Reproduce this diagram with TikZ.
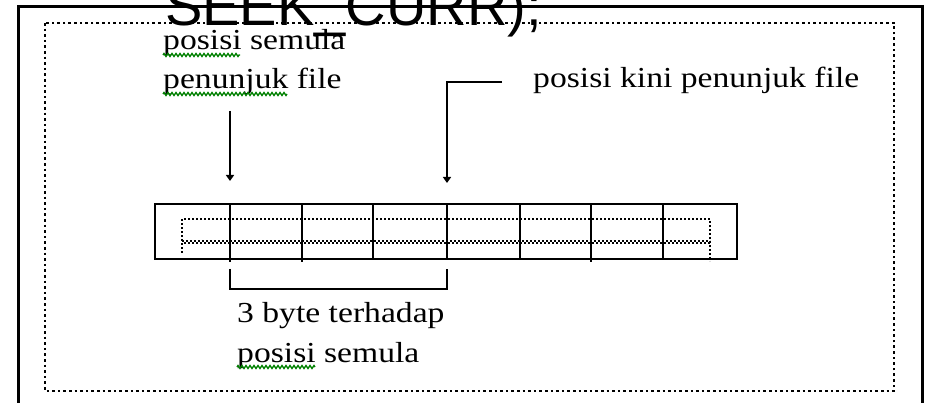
\documentclass[tikz,border=0pt]{standalone}
\usepackage{fontspec}
\setmainfont{Liberation Serif}
\newfontfamily\lblfont[FakeStretch=1.16]{Liberation Serif}
\newfontfamily\bigfont{Liberation Sans}
\usetikzlibrary{arrows.meta,decorations.pathmorphing}
\tikzset{
  frameline/.style={line width=3pt},
  boxline/.style={line width=2.8pt},
  outerdots/.style={line width=2.8pt, dash pattern=on 2.6pt off 3pt},
  innerdots/.style={line width=2pt, dash pattern=on 2pt off 2pt},
  lbl/.style={anchor=base west, inner sep=0pt, font=\lblfont\fontsize{29}{29}\selectfont},
  big/.style={anchor=base west, inner sep=0pt, font=\bigfont\fontsize{56}{56}\selectfont},
  pointer/.style={line width=2.8pt, -{Triangle[length=6pt,width=8pt]}},
  wavy/.style={draw=green!50!black, line width=1.3pt, decorate,
    decoration={zigzag, segment length=4pt, amplitude=1.5pt}},
}
\begin{document}
\begin{tikzpicture}[x=1pt,y=-1pt]
\useasboundingbox (0,0) rectangle (926,403);
% outer frame (open at bottom)
\draw[frameline] (18,403) -- (18,7) -- (922,7) -- (922,403);
% dotted inner frame
\draw[outerdots] (45,23) rectangle (894,391);
% title text cut at top
\node[big] (title) at (165,26) {SEEK\_CURR);};
% labels
\node[lbl] (semula1) at (163,50) {posisi semula};
\node[lbl] (semula2) at (163,89) {penunjuk file};
\node[lbl] (kini) at (533,88) {posisi kini penunjuk file};
\node[lbl] (byte1) at (237,322) {3 byte terhadap};
\node[lbl] (byte2) at (237,362) {posisi semula};
% spell-check wavy underlines
\draw[wavy] (163,55) -- (240,55);
\draw[wavy] (163,94) -- (287,94);
\draw[wavy] (237,367) -- (315,367);
% array of bytes
\coordinate (arrNW) at (155,204);
\coordinate (arrSE) at (737,259);
\draw[boxline] (arrNW) rectangle (arrSE);
\foreach \x in {230,302,591} \draw[boxline] (\x,204) -- (\x,262);
\foreach \x in {373,447,520,663} \draw[boxline] (\x,204) -- (\x,259);
% inner dotted lines of the array
\draw[innerdots] (182,253) -- (182,219) -- (710,219) -- (710,261);
\draw[innerdots] (182,241) -- (710,241);
\draw[innerdots, dash phase=2pt] (182,243.5) -- (710,243.5);
% pointers
\coordinate (p1s) at (230,111);
\coordinate (p1e) at (230,181);
\coordinate (p2s) at (502,82);
\coordinate (p2c) at (447,82);
\coordinate (p2e) at (447,183);
\draw[pointer] (p1s) -- (p1e);
\draw[pointer] (p2s) -- (p2c) -- (p2e);
% bracket
\coordinate (b1) at (230,269);
\coordinate (b2) at (447,269);
\draw[boxline] (b1) -- (230,290) (230,289) -- (447,289) -- (b2);
\end{tikzpicture}
\end{document}
